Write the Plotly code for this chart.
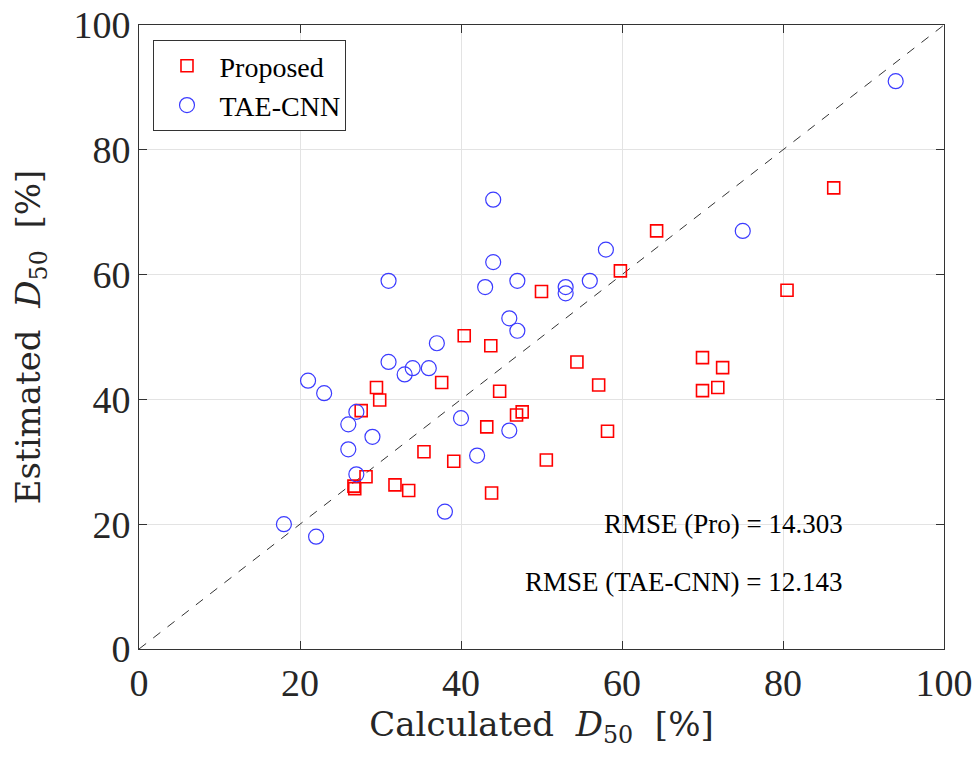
import plotly.graph_objects as go

# Proposed (red squares)
pro_calc = [86.3, 80.5, 64.3, 59.8, 50.0, 40.4, 43.7, 54.4, 70.0, 72.5, 57.1, 70.0, 71.9,
            37.6, 44.8, 46.9, 47.6, 43.2, 58.2, 35.4, 39.1, 50.6, 43.8, 29.5, 29.9, 27.6,
            28.2, 26.7, 26.8, 31.8, 33.5]
pro_est = [73.9, 57.5, 67.0, 60.6, 57.3, 50.2, 48.6, 46.0, 46.7, 45.1, 42.3, 41.4, 41.9,
           42.7, 41.3, 37.5, 38.0, 35.6, 34.9, 31.6, 30.1, 30.3, 25.0, 41.9, 39.9, 38.2,
           27.6, 26.1, 25.7, 26.3, 25.4]

# TAE-CNN (blue circles)
tae_calc = [94, 44, 75, 58, 44, 31, 47, 56, 43, 53, 53, 46, 47, 37, 31, 34, 36, 33, 21, 23,
            27, 26, 40, 46, 29, 26, 42, 27, 38, 18, 22]
tae_est = [91, 72, 67, 64, 62, 59, 59, 59, 58, 58, 57, 53, 51, 49, 46, 45, 45, 44, 43, 41,
           38, 36, 37, 35, 34, 32, 31, 28, 22, 20, 18]

diag = [0, 100]
ticks = [0, 20, 40, 60, 80, 100]

SERIF = "Liberation Serif, Times New Roman, serif"
TITLE_FONT = "DejaVu Serif, serif"

fig = go.Figure()
fig.add_trace(go.Scatter(x=diag, y=diag, mode="lines", showlegend=False,
                         line=dict(color="#333333", width=1, dash="dash"),
                         hoverinfo="skip"))
fig.add_trace(go.Scatter(x=pro_calc, y=pro_est, mode="markers", name="Proposed",
                         marker=dict(symbol="square-open", size=12,
                                     color="#ff0000", line=dict(width=1.6, color="#ff0000"))))
fig.add_trace(go.Scatter(x=tae_calc, y=tae_est, mode="markers", name="TAE-CNN",
                         marker=dict(symbol="circle-open", size=15,
                                     color="#3b3bff", line=dict(width=1.2, color="#3b3bff"))))

axis_common = dict(range=[0, 100], tickvals=ticks, showgrid=True, gridcolor="#e3e3e3",
                   gridwidth=1, zeroline=False, showline=True, linecolor="#333333",
                   linewidth=1, mirror="ticks", ticks="inside", ticklen=8,
                   tickcolor="#333333", automargin=False,
                   tickfont=dict(family=SERIF, size=38, color="#262626"))

fig.update_xaxes(**axis_common,
                 title=dict(text="Calculated&nbsp; <i>D</i><sub>50</sub>&nbsp; [%]",
                            font=dict(family=TITLE_FONT, size=34, color="#262626"), standoff=8))
fig.update_yaxes(**axis_common,
                 title=dict(text="Estimated&nbsp; <i>D</i><sub>50</sub>&nbsp; [%]",
                            font=dict(family=TITLE_FONT, size=34, color="#262626"), standoff=22))

fig.add_annotation(x=87.7, y=20, xref="x", yref="y", xanchor="right", yanchor="middle",
                   text="RMSE (Pro) = 14.303", showarrow=False,
                   font=dict(family=SERIF, size=27, color="black"))
fig.add_annotation(x=87.7, y=10.8, xref="x", yref="y", xanchor="right", yanchor="middle",
                   text="RMSE (TAE-CNN) = 12.143", showarrow=False,
                   font=dict(family=SERIF, size=27, color="black"))

fig.update_layout(
    width=978, height=758,
    margin=dict(l=139, r=34, t=25, b=109),
    plot_bgcolor="white", paper_bgcolor="white",
    legend=dict(x=0.018, y=0.976, xanchor="left", yanchor="top",
                bgcolor="white", bordercolor="#333333", borderwidth=1,
                font=dict(family=SERIF, size=28, color="black"),
                itemwidth=55, tracegroupgap=0),
)

fig.write_html("out.html")
